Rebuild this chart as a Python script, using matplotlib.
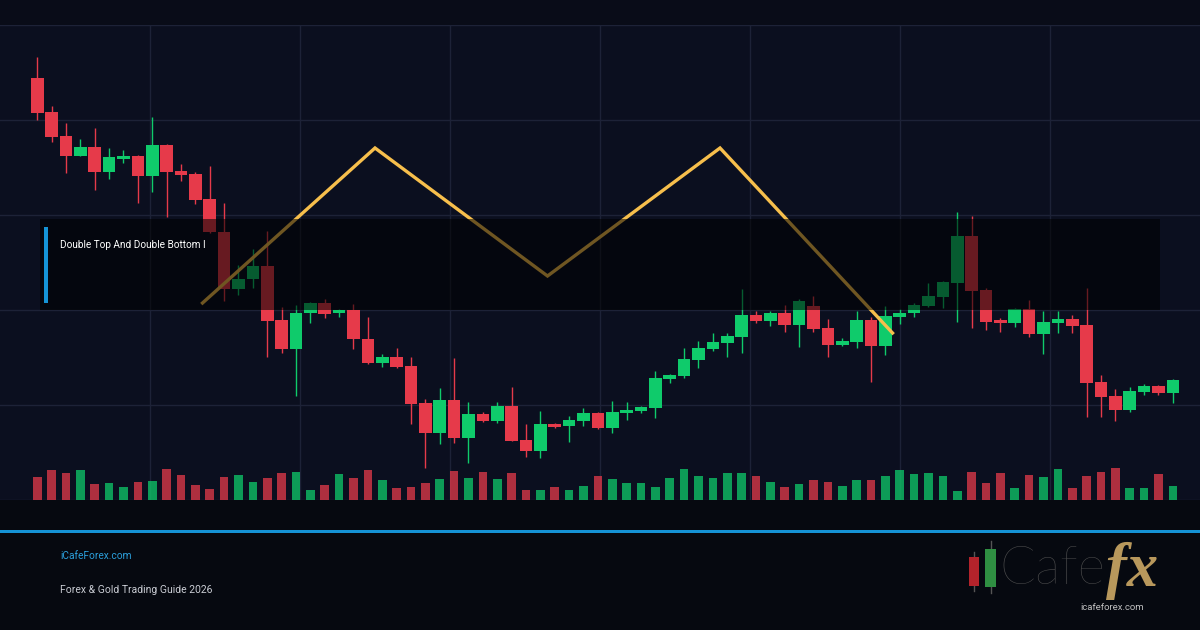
import numpy as np
import matplotlib.pyplot as plt
from matplotlib.patches import Rectangle

plt.rcParams['font.family'] = ['Roboto', 'DejaVu Sans']

# OHLC (price) and volume (thousand lots), one entry per candle
OPEN = [2361.2, 2344.2, 2332.0, 2322.2, 2326.7, 2314.2, 2320.5, 2322.0, 2312.2, 2327.5,
        2314.7, 2313.0, 2300.5, 2283.9, 2255.5, 2260.4, 2267.0, 2240.0, 2225.5, 2243.4,
        2248.7, 2243.4, 2245.0, 2230.5, 2218.7, 2221.7, 2217.0, 2198.4, 2183.4, 2200.0,
        2181.2, 2193.0, 2189.5, 2197.0, 2180.0, 2174.5, 2188.0, 2187.2, 2189.5, 2193.7,
        2186.2, 2193.7, 2194.5, 2196.2, 2210.7, 2212.0, 2220.0, 2225.5, 2228.7, 2231.7,
        2242.5, 2239.5, 2243.7, 2237.5, 2247.0, 2235.9, 2227.5, 2229.2, 2240.0, 2227.0,
        2241.7, 2243.4, 2247.0, 2251.7, 2258.7, 2282.0, 2255.0, 2240.0, 2238.7, 2245.4,
        2233.0, 2238.7, 2240.5, 2237.5, 2208.9, 2202.0, 2195.0, 2204.2, 2207.0, 2203.7]
HIGH = [2371.7, 2347.2, 2338.7, 2330.7, 2336.2, 2326.2, 2325.0, 2322.5, 2341.7, 2328.0,
        2318.0, 2313.9, 2317.0, 2298.5, 2267.5, 2275.4, 2284.7, 2246.7, 2247.5, 2249.2,
        2250.4, 2245.5, 2248.0, 2241.4, 2223.0, 2225.9, 2221.7, 2200.4, 2205.9, 2221.2,
        2198.9, 2193.9, 2198.9, 2206.4, 2187.9, 2194.5, 2188.4, 2192.0, 2196.2, 2193.9,
        2199.5, 2198.9, 2197.2, 2214.5, 2213.0, 2226.2, 2229.5, 2233.4, 2233.4, 2255.4,
        2244.5, 2244.7, 2247.5, 2250.5, 2252.0, 2240.4, 2230.9, 2244.5, 2241.4, 2247.0,
        2245.4, 2248.7, 2258.4, 2259.5, 2294.2, 2292.0, 2255.9, 2240.9, 2246.2, 2250.0,
        2244.7, 2244.7, 2242.5, 2256.2, 2212.5, 2205.5, 2206.7, 2208.0, 2207.3, 2210.3]
LOW = [2340.0, 2329.2, 2313.7, 2322.0, 2305.0, 2310.5, 2318.7, 2298.7, 2304.2, 2291.7,
       2309.7, 2297.9, 2283.5, 2249.5, 2252.5, 2255.9, 2221.4, 2223.4, 2202.2, 2238.4,
       2241.2, 2241.4, 2225.4, 2218.0, 2216.7, 2216.0, 2187.9, 2166.2, 2177.9, 2178.4,
       2168.7, 2189.2, 2188.4, 2179.3, 2171.7, 2171.2, 2186.2, 2179.2, 2187.2, 2185.4,
       2183.7, 2190.0, 2193.7, 2191.2, 2208.7, 2211.2, 2216.2, 2224.5, 2221.7, 2223.4,
       2238.4, 2237.2, 2234.2, 2226.7, 2234.2, 2221.4, 2227.0, 2225.9, 2209.2, 2222.5,
       2238.0, 2241.7, 2246.7, 2246.2, 2239.2, 2235.9, 2235.0, 2234.2, 2236.4, 2231.7,
       2223.0, 2233.7, 2233.7, 2191.7, 2191.7, 2189.7, 2194.2, 2202.5, 2202.5, 2198.4]
CLOSE = [2343.7, 2331.7, 2322.2, 2326.7, 2314.2, 2321.7, 2322.2, 2312.2, 2327.5, 2314.2,
         2312.5, 2300.0, 2283.9, 2255.5, 2260.4, 2267.0, 2239.7, 2225.5, 2243.7, 2248.7,
         2243.0, 2244.9, 2230.4, 2218.7, 2221.7, 2216.7, 2198.0, 2183.4, 2200.0, 2181.2,
         2193.0, 2189.5, 2197.0, 2179.5, 2174.5, 2188.0, 2186.5, 2190.0, 2193.7, 2186.2,
         2194.0, 2195.0, 2196.5, 2211.2, 2212.5, 2220.5, 2226.2, 2229.0, 2232.0, 2242.5,
         2239.5, 2243.7, 2237.5, 2249.5, 2235.4, 2227.5, 2229.5, 2240.0, 2227.0, 2242.0,
         2243.7, 2247.5, 2252.0, 2259.2, 2282.0, 2254.5, 2239.2, 2238.4, 2245.4, 2233.0,
         2239.2, 2240.5, 2237.0, 2208.7, 2201.7, 2195.0, 2204.5, 2207.0, 2203.7, 2210.0]
VOLUME = [2.3, 3.0, 2.7, 3.0, 1.6, 1.7, 1.3, 1.8, 1.9, 3.1,
          2.5, 1.5, 1.1, 2.3, 2.5, 1.8, 2.2, 2.7, 2.8, 1.0,
          1.5, 2.6, 2.2, 3.0, 2.0, 1.2, 1.3, 1.7, 2.1, 2.9,
          2.2, 2.8, 2.1, 2.7, 1.0, 1.0, 1.3, 1.0, 1.4, 2.4,
          2.1, 1.7, 1.7, 1.3, 2.2, 3.1, 2.4, 2.2, 2.7, 2.7,
          2.4, 1.8, 1.3, 1.6, 2.0, 1.8, 1.4, 2.0, 2.0, 2.4,
          3.0, 2.6, 2.7, 2.4, 0.9, 2.8, 1.7, 2.7, 1.2, 2.5,
          2.3, 3.1, 1.2, 2.4, 2.8, 3.2, 1.2, 1.2, 2.6, 1.4]

# double top outline (candle index, price)
PATTERN_X = [11.5, 23.5, 35.5, 47.5, 59.5]
PATTERN_Y = [2248.5, 2326.0, 2262.0, 2326.0, 2233.5]

TITLE = "Double Top And Double Bottom I"
SITE = "iCafeForex.com"
SUBTITLE = "Forex & Gold Trading Guide 2026"

UP = '#0fcb6b'
DOWN = '#e63a4a'
BG = '#0b0f1f'

W, H = 1200, 630
fig = plt.figure(figsize=(12, 6.3), dpi=100, facecolor='#060910')


def fx(x):
    return x / W


def fy(y):
    return 1 - y / H


# background bands
fig.patches.append(Rectangle((0, fy(25)), 1, 25 / H, transform=fig.transFigure,
                             facecolor='#090c18', zorder=0))

ax = fig.add_axes([0, fy(500), 1, 475 / H])
ax.set_facecolor(BG)
n = len(OPEN)
x = np.arange(n)
ax.set_xlim(-2.588, 80.89)
ax.set_ylim(2150, 2387.5)
ax.set_xticks(np.linspace(-2.588, 80.89, 9)[1:-1])
ax.set_yticks(np.linspace(2150, 2387.5, 6))
ax.grid(True, color='#1d2237', lw=1.0)
ax.tick_params(length=0, labelbottom=False, labelleft=False)
for s in ax.spines.values():
    s.set_visible(False)
ax.set_axisbelow(True)

# volume on its own scale
axv = ax.twinx()
axv.set_ylim(0, 47.5)
axv.axis('off')

o = np.array(OPEN)
c = np.array(CLOSE)
up = c >= o
cols = np.where(up, UP, DOWN)
axv.bar(x, VOLUME, width=0.6, color=cols, alpha=0.75, zorder=1)

ax.vlines(x, LOW, HIGH, colors=cols, lw=1.0, zorder=2)
ax.bar(x, np.abs(c - o), bottom=np.minimum(o, c), width=0.88, color=cols, zorder=3)

# pattern line on an overlay axes so it sits above the candles
axp = fig.add_axes(ax.get_position(), sharex=ax)
axp.set_ylim(ax.get_ylim())
axp.axis('off')
axp.plot(PATTERN_X, PATTERN_Y, color='#f7bf4c', lw=2.4, solid_joinstyle='miter', zorder=4)

# title overlay box
fig.patches.append(Rectangle((fx(40), fy(310)), fx(1120), 91 / H, transform=fig.transFigure,
                             facecolor='black', alpha=0.55, zorder=10))
fig.patches.append(Rectangle((fx(44), fy(303)), fx(3.5), 76 / H, transform=fig.transFigure,
                             facecolor='#1593d6', zorder=11))
fig.text(fx(60), fy(245), TITLE, color='white', fontsize=7.2, va='center', ha='left', zorder=12)

# footer
fig.patches.append(Rectangle((0, fy(533)), 1, 3.5 / H, transform=fig.transFigure,
                             facecolor='#1593d6', zorder=5))
fig.text(fx(60), fy(556), SITE, color='#2b9fdb', fontsize=7.3, va='center', ha='left')
fig.text(fx(60), fy(590), SUBTITLE, color='#c9ccd3', fontsize=7.5, va='center', ha='left')

# logo
for (x0, x1, top, btm, wt, wb, col) in [(969, 979, 557, 586, 552, 591, '#b3232b'),
                                         (985, 996, 549, 587, 541, 593, '#2f8f42')]:
    xm = (x0 + x1) / 2
    fig.lines.append(plt.Line2D([fx(xm), fx(xm)], [fy(wb), fy(wt)], transform=fig.transFigure,
                                color='#555555', lw=1))
    fig.patches.append(Rectangle((fx(x0), fy(btm)), fx(x1 - x0), (btm - top) / H,
                                 transform=fig.transFigure, facecolor=col, zorder=3))
fig.text(fx(999), fy(569), 'Cafe', color='#505050', fontsize=38, family=['Lato', 'DejaVu Sans'],
         fontweight='light', va='center', ha='left')
fig.text(fx(1106), fy(571), 'fx', color='#b8985c', fontsize=45, family=['Liberation Serif', 'DejaVu Serif'],
         fontweight='bold', style='italic', va='center', ha='left')
fig.text(fx(1112), fy(607), 'icafeforex.com', color='#c0c0c0', fontsize=6.8, va='center', ha='center')

fig.savefig('out.png', dpi=100, facecolor=fig.get_facecolor())
